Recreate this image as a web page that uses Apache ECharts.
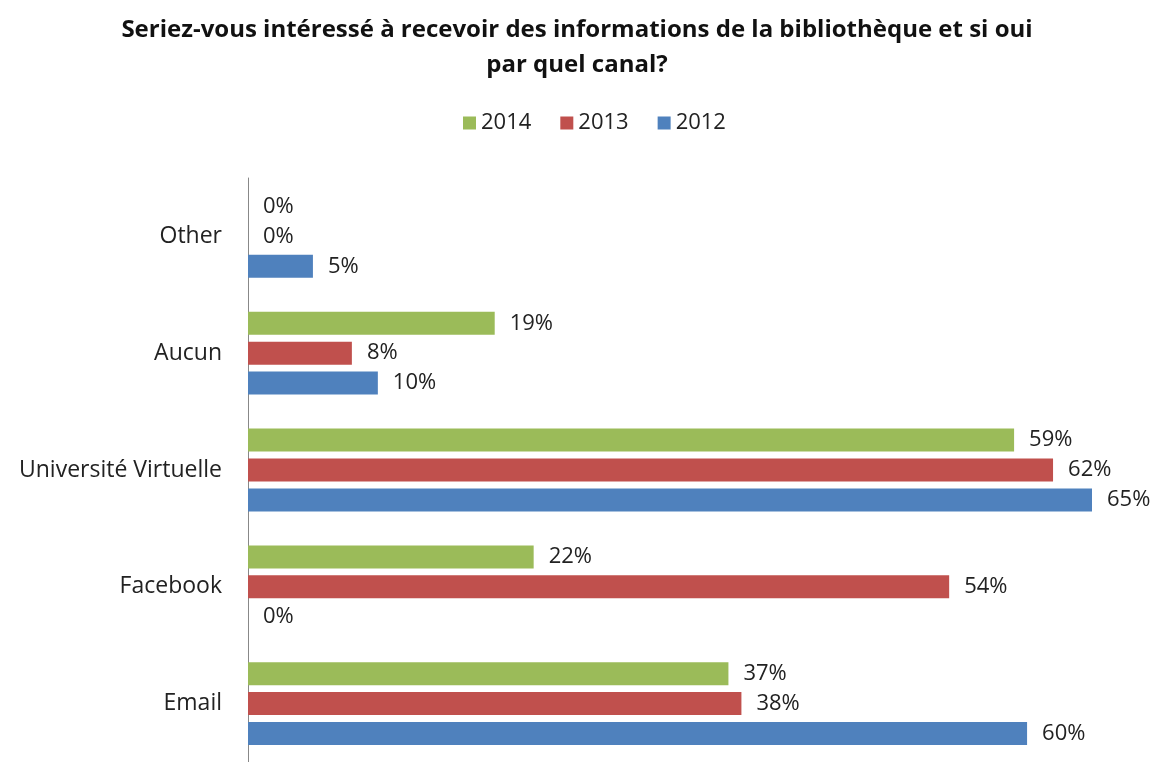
<!DOCTYPE html>
<html>
<head>
<meta charset="utf-8">
<script src="https://cdn.jsdelivr.net/npm/echarts@6/dist/echarts.min.js"></script>
<style>html,body{margin:0;padding:0;background:#fff}#c{width:1154px;height:762px}</style>
</head>
<body>
<div id="c"></div>
<script>
const categories = ['Email', 'Facebook', 'Université Virtuelle', 'Aucun', 'Other'];
const values2012 = [60, 0, 65, 10, 5];
const values2013 = [38, 54, 62, 8, 0];
const values2014 = [37, 22, 59, 19, 0];
const legendOrder = ['2014', '2013', '2012'];
const titleText = 'Seriez-vous intéressé à recevoir des informations de la bibliothèque et si oui\npar quel canal?';

const FONT = 'Open Sans';
const chart = echarts.init(document.getElementById('c'));
const label = {
  show: true, position: 'right', distance: 15,
  formatter: '{c}%', fontFamily: FONT, fontSize: 22, color: '#222'
};
function mk(name, data, color) {
  return {
    name, type: 'bar', data, barWidth: 23, barGap: '30%',
    itemStyle: { color }, label, animation: false
  };
}
chart.setOption({
  animation: false,
  title: {
    text: titleText, left: 'center', top: 8,
    textStyle: { fontFamily: FONT, fontSize: 24, fontWeight: 'bold', color: '#111', lineHeight: 35 }
  },
  legend: {
    data: legendOrder, top: 107, left: 458, icon: 'rect',
    itemWidth: 13, itemHeight: 13, itemGap: 29,
    textStyle: { fontFamily: FONT, fontSize: 22, color: '#222' }
  },
  grid: { left: 248, right: 62, top: 178, height: 586, containLabel: false },
  xAxis: {
    type: 'value', min: 0, max: 65, show: false
  },
  yAxis: {
    type: 'category', data: categories,
    axisLine: { show: true, lineStyle: { color: '#888', width: 1 } },
    axisTick: { show: false },
    axisLabel: { fontFamily: FONT, fontSize: 23, color: '#222', margin: 26 }
  },
  series: [
    mk('2014', values2014, '#9BBB59'),
    mk('2013', values2013, '#C0504D'),
    mk('2012', values2012, '#4F81BD')
  ]
});
</script>
</body>
</html>
